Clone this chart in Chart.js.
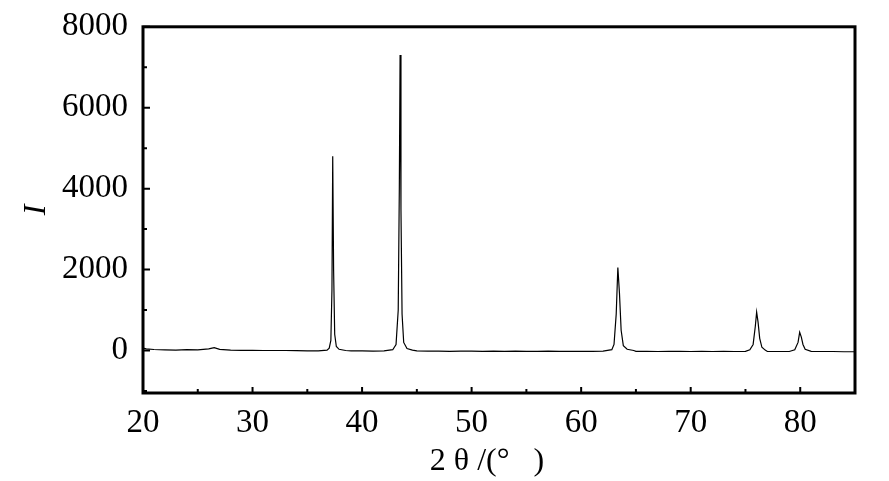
<!DOCTYPE html>
<html>
<head>
<meta charset="utf-8">
<script src="https://cdn.jsdelivr.net/npm/chart.js@4.4.1/dist/chart.umd.min.js"></script>
<style>
html,body{margin:0;padding:0;background:#fff;}
#wrap{width:889px;height:481px;position:relative;}
</style>
</head>
<body>
<div id="wrap"><canvas id="c" width="889" height="481"></canvas></div>
<script>
// 2θ (degrees)
const twoTheta = [20.0,20.3,21,22,23,24,25,26,26.5,27,28,29,30,31,32,33,34,35,36,36.8,37.0,37.15,37.25,37.32,37.40,37.5,37.65,37.9,38.5,39,40,41,42,42.8,43.1,43.3,43.4,43.47,43.55,43.65,43.8,44.1,44.6,45,46,47,48,49,50,51,52,53,54,55,56,57,58,59,60,61,62,62.8,63.0,63.2,63.35,63.5,63.65,63.85,64.2,64.8,65,66,67,68,69,70,71,72,73,74,75,75.4,75.7,75.9,76.02,76.15,76.3,76.5,76.8,77,78,79,79.5,79.8,79.95,80.1,80.25,80.45,81,82,83,84,85];
// Intensity
const intensity = [60,40,25,15,10,20,15,40,70,30,10,5,5,0,0,0,-5,-10,-10,10,60,250,1500,4800,2000,400,100,30,0,-10,-10,-15,-10,20,150,1000,4000,7300,3500,900,200,50,10,-10,-15,-15,-20,-15,-15,-20,-15,-20,-15,-20,-20,-15,-20,-20,-20,-20,-15,20,150,900,2050,1400,500,120,30,0,-20,-20,-25,-20,-20,-25,-20,-25,-20,-25,-20,20,150,600,950,700,300,80,10,-25,-25,-25,20,200,450,330,150,30,-20,-25,-25,-30,-30];
const xTickLabels = [20,30,40,50,60,70,80];
const yTickLabels = [0,2000,4000,6000,8000];
const xMinorTicks = [25,35,45,55,65,75,85];
const yMinorTicks = [-1000,1000,3000,5000,7000];

const points = twoTheta.map((x,i)=>({x:x,y:intensity[i]}));

const serif = '"Liberation Serif", "DejaVu Serif", serif';

const framePlugin = {
  id:'frame',
  afterDraw(chart){
    const {ctx, chartArea:a, scales} = chart;
    const xs = scales.x, ys = scales.y;
    ctx.save();
    ctx.strokeStyle='#000';
    ctx.lineWidth=2;
    ctx.beginPath();
    xTickLabels.forEach(v=>{const p=xs.getPixelForValue(v);ctx.moveTo(p,a.bottom);ctx.lineTo(p,a.bottom-6);});
    xMinorTicks.forEach(v=>{const p=xs.getPixelForValue(v);ctx.moveTo(p,a.bottom);ctx.lineTo(p,a.bottom-4);});
    yTickLabels.forEach(v=>{const p=ys.getPixelForValue(v);ctx.moveTo(a.left,p);ctx.lineTo(a.left+7,p);});
    yMinorTicks.forEach(v=>{const p=ys.getPixelForValue(v);ctx.moveTo(a.left,p);ctx.lineTo(a.left+4,p);});
    ctx.stroke();
    ctx.lineWidth=3;
    ctx.strokeRect(a.left,a.top,a.right-a.left,a.bottom-a.top);
    ctx.restore();
  }
};

new Chart(document.getElementById('c'),{
  type:'line',
  data:{datasets:[{data:points,borderColor:'#000',borderWidth:1.2,pointRadius:0,tension:0,fill:false}]},
  options:{
    responsive:false,animation:false,
    layout:{padding:{top:12,right:34,left:0,bottom:0}},
    plugins:{legend:{display:false},tooltip:{enabled:false}},
    scales:{
      x:{type:'linear',min:20,max:85,
        grid:{display:false},border:{display:false},
        afterBuildTicks(s){s.ticks=xTickLabels.map(v=>({value:v}));},
        afterFit(s){s.height=88;},
        ticks:{color:'#000',padding:3,maxRotation:0,font:{family:serif,size:33},callback:v=>String(v)},
        title:{display:true,text:'2 θ /(°   )   ',color:'#000',padding:{top:0,bottom:0},font:{family:serif,size:32}}
      },
      y:{type:'linear',min:-1050,max:8000,
        grid:{display:false},border:{display:false},
        afterBuildTicks(s){s.ticks=yTickLabels.map(v=>({value:v}));},
        afterFit(s){s.width=143;},
        ticks:{color:'#000',padding:7,font:{family:serif,size:33},callback:v=>String(v)},
        title:{display:true,text:'I',color:'#000',padding:{top:17,bottom:0},font:{family:serif,size:32,style:'italic'}}
      }
    }
  },
  plugins:[framePlugin]
});
</script>
</body>
</html>
